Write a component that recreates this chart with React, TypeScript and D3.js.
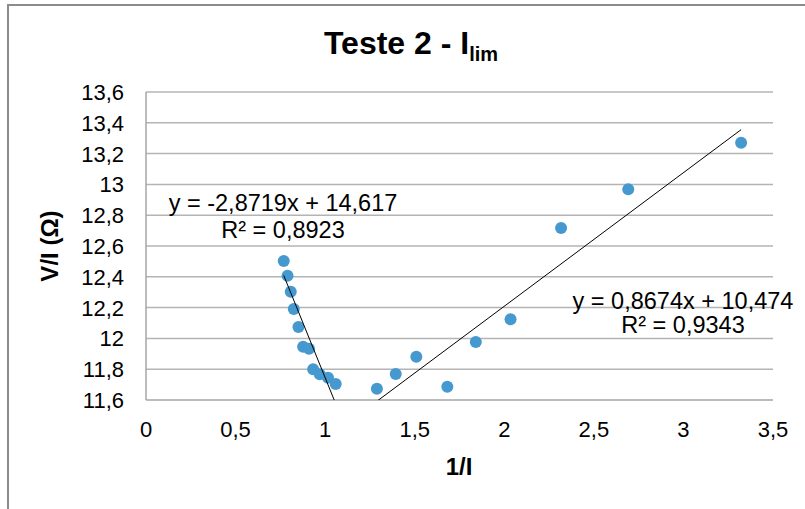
import React from "react";
import * as d3 from "d3";

const leftX = [0.769, 0.79, 0.808, 0.825, 0.851, 0.877, 0.91, 0.933, 0.97, 1.016, 1.059];
const leftY = [12.503, 12.407, 12.303, 12.191, 12.074, 11.946, 11.933, 11.8, 11.767, 11.745, 11.704];
const rightX = [1.289, 1.394, 1.509, 1.682, 1.841, 2.035, 2.317, 2.692, 3.322];
const rightY = [11.673, 11.769, 11.881, 11.686, 11.977, 12.124, 12.717, 12.968, 13.271];

const leftFit = { slope: -2.8719, intercept: 14.617 };
const rightFit = { slope: 0.8674, intercept: 10.474 };
const leftEq = ["y = -2,8719x + 14,617", "R² = 0,8923"];
const rightEq = ["y = 0,8674x + 10,474", "R² = 0,9343"];

const xTicks = [0, 0.5, 1, 1.5, 2, 2.5, 3, 3.5];
const yTicks = [11.6, 11.8, 12, 12.2, 12.4, 12.6, 12.8, 13, 13.2, 13.4, 13.6];

const fmt = (v: number) => String(+v.toFixed(1)).replace(".", ",");

export default function App() {
  const x = d3.scaleLinear().domain([0, 3.5]).range([146, 773]);
  const y = d3.scaleLinear().domain([11.6, 13.6]).range([400, 92]);
  const font = "'Liberation Sans', Arial, sans-serif";

  const fitLine = (xs: number[], fit: { slope: number; intercept: number }) => {
    const ext = d3.extent(xs) as [number, number];
    const pts: [number, number][] = ext.map((v) => [v, fit.slope * v + fit.intercept]);
    return d3
      .line<[number, number]>()
      .x((d) => x(d[0]))
      .y((d) => y(d[1]))(pts) as string;
  };

  const pts = [
    ...leftX.map((v, i) => [v, leftY[i]]),
    ...rightX.map((v, i) => [v, rightY[i]]),
  ];

  return (
    <svg
      width={805}
      height={509}
      style={{ position: "absolute", left: 0, top: 0, background: "#fff" }}
      fontFamily={font}
    >
      <rect x={8} y={5} width={830} height={530} fill="#fff" stroke="#8c8c8c" strokeWidth={2} />
      <defs>
        <clipPath id="plot">
          <rect x={x(0)} y={y(13.6)} width={x(3.5) - x(0)} height={y(11.6) - y(13.6)} />
        </clipPath>
      </defs>
      {/* title */}
      <text x={411} y={54} textAnchor="middle" fontSize={32} fontWeight="bold" fill="#000">
        Teste 2 - I
        <tspan fontSize={20} dy={7}>lim</tspan>
      </text>
      {/* gridlines */}
      {yTicks.slice(1).map((t) => (
        <line key={t} x1={x(0)} x2={x(3.5)} y1={y(t)} y2={y(t)} stroke="#b4b4b4" strokeWidth={1.5} />
      ))}
      {/* axes */}
      <line x1={x(0)} x2={x(0)} y1={y(13.6)} y2={y(11.6)} stroke="#a6a6a6" strokeWidth={1.5} />
      <line x1={x(0)} x2={x(3.5)} y1={y(11.6)} y2={y(11.6)} stroke="#a6a6a6" strokeWidth={1.5} />
      {/* tick labels */}
      {yTicks.map((t) => (
        <text key={t} x={124} y={y(t) + 8} textAnchor="end" fontSize={22} fill="#000">
          {fmt(t)}
        </text>
      ))}
      {xTicks.map((t) => (
        <text key={t} x={x(t)} y={437} textAnchor="middle" fontSize={22} fill="#000">
          {fmt(t)}
        </text>
      ))}
      {/* axis titles */}
      <text x={459} y={475} textAnchor="middle" fontSize={24} fontWeight="bold">
        1/I
      </text>
      <text transform={`translate(58,246) rotate(-90)`} textAnchor="middle" fontSize={24} fontWeight="bold">
        V/I (Ω)
      </text>
      {/* points */}
      {pts.map((p, i) => (
        <circle key={i} cx={x(p[0])} cy={y(p[1])} r={6} fill="#4599cf" />
      ))}
      {/* trendlines */}
      <g clipPath="url(#plot)">
        <path d={fitLine(leftX, leftFit)} stroke="#000" strokeWidth={1} fill="none" />
        <path d={fitLine(rightX, rightFit)} stroke="#000" strokeWidth={1} fill="none" />
      </g>
      {/* equations */}
      <text x={283} y={211} textAnchor="middle" fontSize={23.5}>
        {leftEq[0]}
      </text>
      <text x={283} y={238} textAnchor="middle" fontSize={23.5}>
        {leftEq[1]}
      </text>
      <text x={683} y={309} textAnchor="middle" fontSize={23.5}>
        {rightEq[0]}
      </text>
      <text x={683} y={333} textAnchor="middle" fontSize={23.5}>
        {rightEq[1]}
      </text>
    </svg>
  );
}
